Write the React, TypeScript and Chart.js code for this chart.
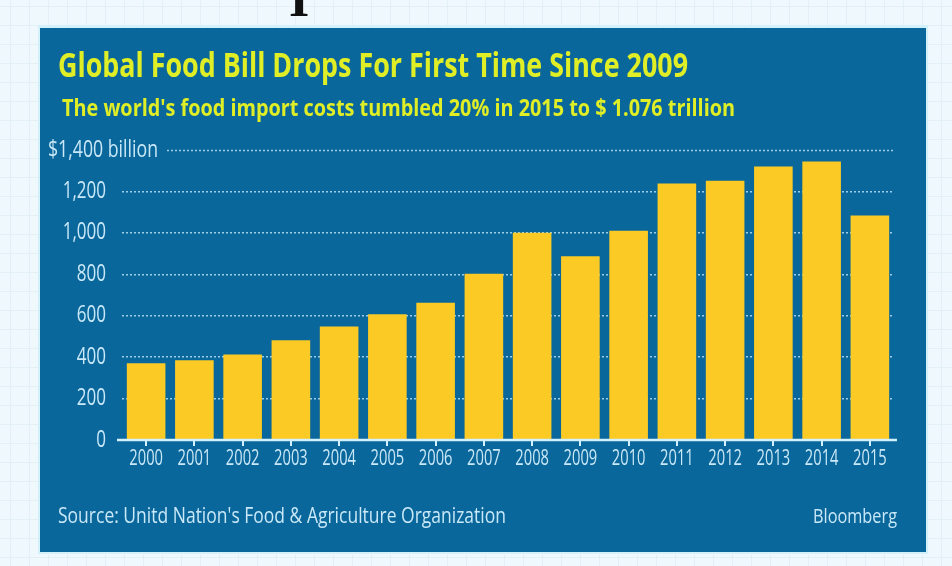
import React, { useEffect, useRef } from 'react';
import { Chart, registerables } from 'chart.js';

Chart.register(...registerables);

// ---- data ----
const years = ['2000', '2001', '2002', '2003', '2004', '2005', '2006', '2007', '2008', '2009', '2010', '2011', '2012', '2013', '2014', '2015'];
const foodImportBillions = [370, 385, 413, 482, 548, 607, 662, 803, 1000, 887, 1010, 1238, 1252, 1320, 1345, 1084];
const yTickValues = [0, 200, 400, 600, 800, 1000, 1200, 1400];
const yTickLabels = ['0', '200', '400', '600', '800', '1,000', '1,200', '$1,400 billion'];

const titleText = 'Global Food Bill Drops For First Time Since 2009';
const subtitleText = "The world's food import costs tumbled 20% in 2015 to $ 1.076 trillion";
const sourceText = "Source: Unitd Nation's Food & Agriculture Organization";
const creditText = 'Bloomberg';

// ---- style ----
const PANEL = '#0a679b';
const BAR = '#fbca24';
const TITLE = '#e0ee26';
const LABEL = '#c9e8f8';
const GRID = 'rgba(185,222,244,0.85)';
const FONT = '"Open Sans", "Noto Sans", "DejaVu Sans", sans-serif';

function drawFit(ctx: CanvasRenderingContext2D, text: string, x: number, y: number, width: number, font: string, color: string, baseline: CanvasTextBaseline = 'alphabetic') {
  ctx.save();
  ctx.font = font;
  ctx.fillStyle = color;
  ctx.textAlign = 'left';
  ctx.textBaseline = baseline;
  const w = ctx.measureText(text).width;
  ctx.translate(x, y);
  ctx.scale(width / w, 1);
  ctx.fillText(text, 0, 0);
  ctx.restore();
}

function drawScaled(ctx: CanvasRenderingContext2D, text: string, x: number, y: number, sx: number, align: 'left' | 'right' | 'center', font: string, color: string) {
  ctx.save();
  ctx.font = font;
  ctx.fillStyle = color;
  ctx.textBaseline = 'middle';
  ctx.textAlign = align;
  ctx.translate(x, y);
  ctx.scale(sx, 1);
  ctx.fillText(text, 0, 0);
  ctx.restore();
}

const decorPlugin = {
  id: 'decor',
  beforeDraw(chart: any) {
    const ctx: CanvasRenderingContext2D = chart.ctx;
    const W = chart.width;
    const H = chart.height;
    ctx.save();
    ctx.fillStyle = '#eff8fc';
    ctx.fillRect(0, 0, W, H);
    ctx.strokeStyle = 'rgba(170,205,222,0.16)';
    ctx.lineWidth = 1;
    for (let x = 10.5; x < W; x += 19) {
      ctx.beginPath(); ctx.moveTo(x, 0); ctx.lineTo(x, H); ctx.stroke();
    }
    for (let y = 6.5; y < H; y += 19) {
      ctx.beginPath(); ctx.moveTo(0, y); ctx.lineTo(W, y); ctx.stroke();
    }
    // clipped glyph at top of the page
    ctx.fillStyle = '#111';
    ctx.font = 'bold 52px "Liberation Serif", serif';
    ctx.textBaseline = 'alphabetic';
    ctx.textAlign = 'center';
    ctx.fillText('I', 299, 16);
    // panel
    ctx.fillStyle = '#d3f1fa';
    ctx.fillRect(38, 25, 890, 529);
    ctx.fillStyle = PANEL;
    ctx.fillRect(40, 28, 886, 524);
    ctx.restore();
  },
  beforeDatasetsDraw(chart: any) {
    const ctx: CanvasRenderingContext2D = chart.ctx;
    const y = chart.scales.y;
    const area = chart.chartArea;
    const topVal = yTickValues[yTickValues.length - 1];
    const py = Math.round(y.getPixelForValue(topVal)) + 0.5;
    ctx.save();
    ctx.strokeStyle = GRID;
    ctx.lineWidth = 1.5;
    ctx.setLineDash([2, 2]);
    ctx.beginPath();
    ctx.moveTo(167, py);
    ctx.lineTo(area.right, py);
    ctx.stroke();
    ctx.restore();
  },
  afterDatasetsDraw(chart: any) {
    const ctx: CanvasRenderingContext2D = chart.ctx;
    const area = chart.chartArea;
    ctx.save();
    ctx.strokeStyle = '#d2f0fd';
    ctx.lineWidth = 2.5;
    ctx.beginPath();
    ctx.moveTo(area.left - 5, area.bottom);
    ctx.lineTo(area.right + 3, area.bottom);
    ctx.stroke();
    ctx.restore();
  },
  afterDraw(chart: any) {
    const ctx: CanvasRenderingContext2D = chart.ctx;
    const area = chart.chartArea;
    const ys = chart.scales.y;
    const xs = chart.scales.x;

    drawFit(ctx, titleText, 58, 77, 630, `bold 34px ${FONT}`, TITLE);
    drawFit(ctx, subtitleText, 62, 116, 673, `bold 24px ${FONT}`, TITLE);

    const tickFont = `23px ${FONT}`;
    yTickValues.forEach((v, i) => {
      const py = ys.getPixelForValue(v);
      if (i === yTickValues.length - 1) {
        drawFit(ctx, yTickLabels[i], 48, py, 110, tickFont, LABEL, 'middle');
      } else {
        drawScaled(ctx, yTickLabels[i], area.left - 16, py, 0.74, 'right', tickFont, LABEL);
      }
    });

    years.forEach((yr, i) => {
      const px = xs.getPixelForTick(i);
      drawScaled(ctx, yr, px, 459, 0.7, 'center', `21px ${FONT}`, LABEL);
    });

    drawFit(ctx, sourceText, 58, 523, 448, `21px ${FONT}`, LABEL);
    drawFit(ctx, creditText, 813, 523, 84, `20px ${FONT}`, LABEL);
  },
};

export default function App() {
  const ref = useRef<HTMLCanvasElement | null>(null);

  useEffect(() => {
    if (!ref.current) return;
    const chart = new Chart(ref.current, {
      type: 'bar',
      data: {
        labels: years,
        datasets: [
          {
            label: 'Food import bill ($ billion)',
            data: foodImportBillions,
            backgroundColor: BAR,
            borderWidth: 0,
            barPercentage: 0.8,
            categoryPercentage: 1,
          },
        ],
      },
      options: {
        animation: false,
        responsive: false,
        devicePixelRatio: 1,
        layout: { padding: { left: 40, right: 58, top: 150, bottom: 96 } },
        plugins: {
          legend: { display: false },
          title: { display: false },
          tooltip: { enabled: false },
        },
        scales: {
          x: {
            offset: true,
            grid: {
              display: true,
              drawOnChartArea: false,
              drawTicks: true,
              tickLength: 6,
              offset: false,
              color: '#d2f0fd',
              lineWidth: 2,
            },
            border: { display: false },
            ticks: { display: false },
            afterFit: (s: any) => { s.height = 30; },
          },
          y: {
            min: 0,
            max: 1400,
            afterBuildTicks: (s: any) => { s.ticks = yTickValues.map((v) => ({ value: v })); },
            grid: {
              drawTicks: false,
              lineWidth: 1.5,
              color: (c: any) => (c.tick && (c.tick.value === 0 || c.tick.value === 1400) ? 'transparent' : GRID),
            },
            border: { display: false, dash: [2, 2] },
            ticks: {
              display: false,
              callback: (v: any) => yTickLabels[yTickValues.indexOf(Number(v))] ?? String(v),
            },
            afterFit: (s: any) => { s.width = 82; },
          },
        },
      },
      plugins: [decorPlugin],
    });
    return () => chart.destroy();
  }, []);

  return (
    <div style={{ position: 'fixed', left: 0, top: 0, width: 952, height: 566 }}>
      <canvas ref={ref} width={952} height={566} style={{ display: 'block', width: 952, height: 566 }} />
    </div>
  );
}
